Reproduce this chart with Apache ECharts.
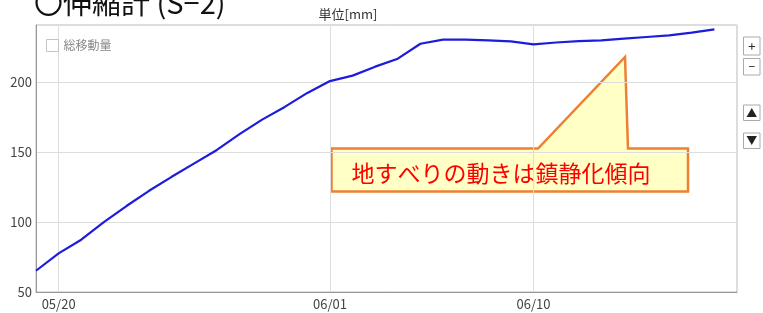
<!DOCTYPE html>
<html>
<head>
<meta charset="utf-8">
<script src="https://cdn.jsdelivr.net/npm/echarts@6/dist/echarts.min.js"></script>
<style>
  html, body { margin: 0; padding: 0; background: #fff; }
  #chart { width: 763px; height: 313px; }
</style>
</head>
<body>
<div id="chart"></div>
<script>
// 日付（05/19〜06/19）
const categories = [
  '05/19', '05/20', '05/21', '05/22', '05/23', '05/24', '05/25', '05/26',
  '05/27', '05/28', '05/29', '05/30', '05/31', '06/01', '06/02', '06/03',
  '06/04', '06/05', '06/06', '06/07', '06/08', '06/09', '06/10', '06/11',
  '06/12', '06/13', '06/14', '06/15', '06/16', '06/17', '06/18', '06/19'
]
// 総移動量 [mm]
const totalMove = [
  65.2, 77.6, 87.4, 100.0, 111.5, 122.4, 132.4, 142.0,
  151.6, 162.9, 173.3, 182.4, 192.4, 200.9, 204.8, 211.2,
  216.9, 227.6, 230.5, 230.5, 230.0, 229.3, 227.1, 228.5,
  229.5, 230.0, 231.2, 232.4, 233.6, 235.5, 237.9
]
const shownTicks = ['05/20', '06/01', '06/10']
const yTicks = [50, 100, 150, 200]

const FONT = '"Noto Sans CJK JP", "Noto Sans", sans-serif'
const showTick = (i, v) => shownTicks.indexOf(v) >= 0

const chart = echarts.init(document.getElementById('chart'))

function button(x, y, w, h, label, size) {
  return {
    type: 'group',
    children: [
      { type: 'rect', shape: { x: x, y: y, width: w, height: h }, style: { fill: '#fff', stroke: '#aaa', lineWidth: 1 } },
      { type: 'text', style: { x: x + w / 2, y: y + h / 2, text: label, align: 'center', verticalAlign: 'middle', font: size + 'px ' + FONT, fill: '#222' } }
    ]
  }
}

chart.setOption({
  animation: false,
  textStyle: { fontFamily: FONT },
  grid: {
    left: 36,
    right: 26,
    top: 25,
    bottom: 21,
    show: true,
    borderColor: '#bbb',
    borderWidth: 1
  },
  legend: {
    data: ['総移動量'],
    left: 46,
    top: 39,
    padding: 0,
    icon: 'rect',
    itemWidth: 12,
    itemHeight: 12,
    itemStyle: { color: '#fff', borderColor: '#c4c4c4', borderWidth: 1 },
    textStyle: { color: '#888', fontSize: 12, fontFamily: FONT }
  },
  xAxis: {
    type: 'category',
    data: categories,
    boundaryGap: false,
    axisLine: { lineStyle: { color: '#999', width: 1 } },
    axisTick: { show: false },
    axisLabel: { interval: showTick, color: '#444', fontSize: 13, margin: 6, fontFamily: FONT },
    splitLine: { show: true, interval: showTick, lineStyle: { color: '#ddd' } }
  },
  yAxis: {
    type: 'value',
    min: yTicks[0],
    max: 241,
    interval: 50,
    axisLine: { show: true, lineStyle: { color: '#999', width: 1 } },
    axisTick: { show: false },
    axisLabel: { color: '#444', fontSize: 13, margin: 4, showMaxLabel: false, fontFamily: FONT },
    splitLine: { lineStyle: { color: '#ddd' } }
  },
  series: [{
    name: '総移動量',
    type: 'line',
    data: totalMove,
    symbol: 'none',
    smooth: false,
    itemStyle: { color: '#1c1cdc' },
    lineStyle: { color: '#1c1cdc', width: 2.2 }
  }],
  graphic: [
    {
      type: 'text',
      style: { x: 34, y: 3, text: '〇伸縮計 (S−2)', verticalAlign: 'middle', font: '29px ' + FONT, fill: '#111' }
    },
    {
      type: 'text',
      style: { x: 348, y: 14, text: '単位[mm]', align: 'center', verticalAlign: 'middle', font: '13px ' + FONT, fill: '#333' }
    },
    {
      type: 'polygon',
      shape: {
        points: [[331.5, 148.5], [538, 148.5], [625, 57], [628, 148.5], [688, 148.5], [688, 191.5], [331.5, 191.5]]
      },
      style: { fill: '#ffffc6', stroke: '#ee8033', lineWidth: 2.5, lineJoin: 'miter' }
    },
    {
      type: 'text',
      style: { x: 501, y: 173, text: '地すべりの動きは鎮静化傾向', align: 'center', verticalAlign: 'middle', font: '23px ' + FONT, fill: '#ff0000' }
    },
    button(743.5, 37, 16.5, 18, '+', 13),
    button(743.5, 58.5, 16.5, 16.5, '−', 12),
    button(743.5, 105, 16.5, 15.5, '▲', 11),
    button(743.5, 133, 16.5, 15.5, '▼', 11)
  ]
})
</script>
</body>
</html>
